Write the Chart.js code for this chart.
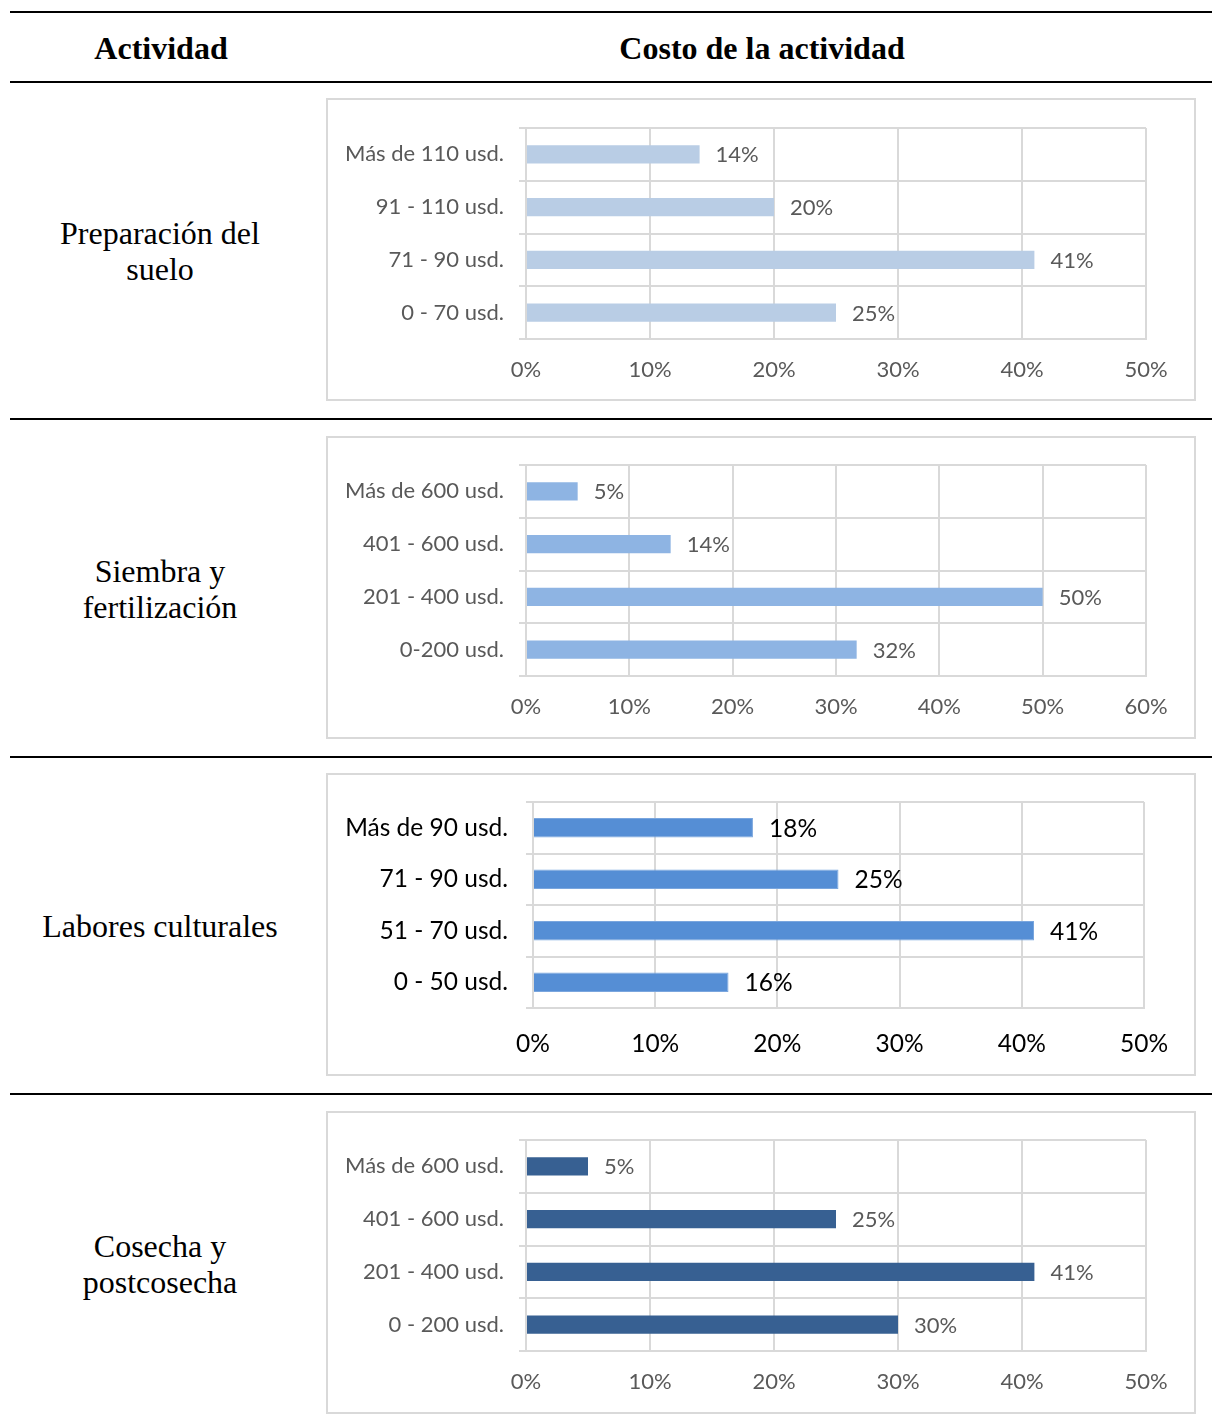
<!DOCTYPE html>
<html lang="es">
<head>
<meta charset="utf-8">
<title>Costo de la actividad</title>
<script src="https://cdn.jsdelivr.net/npm/chart.js@4.4.1/dist/chart.umd.min.js"></script>
<style>
  html, body { margin: 0; padding: 0; background: #fff; }
  body { width: 1212px; height: 1425px; position: relative; overflow: hidden; }
  .rule { position: absolute; left: 10px; width: 1202px; height: 2px; background: #000; }
  .head { position: absolute; top: 28px; font: bold 32px "Liberation Serif", "Times New Roman", serif; color: #000; text-align: center; line-height: 40px; }
  .act { position: absolute; left: 10px; width: 300px; font: 32px "Liberation Serif", "Times New Roman", serif; color: #000; text-align: center; line-height: 36px; transform: translateY(-50%); }
  .box { position: absolute; left: 326px; width: 866px; height: 299px; border: 2px solid #d9d9d9; }
  .plot { position: absolute; left: 327px; width: 868px; height: 301px; }
</style>
</head>
<body>
<div class="rule" style="top:11px"></div>
<div class="rule" style="top:81px"></div>
<div class="rule" style="top:418px"></div>
<div class="rule" style="top:756px"></div>
<div class="rule" style="top:1093px"></div>

<div class="head" style="left:10px;width:302px">Actividad</div>
<div class="head" style="left:326px;width:872px">Costo de la actividad</div>

<div class="act" style="top:251px">Preparación del<br>suelo</div>
<div class="act" style="top:589px">Siembra y<br>fertilización</div>
<div class="act" style="top:926px">Labores culturales</div>
<div class="act" style="top:1264px">Cosecha y<br>postcosecha</div>

<div class="box" style="top:98px"></div>
<div class="box" style="top:436px"></div>
<div class="box" style="top:773px"></div>
<div class="box" style="top:1111px"></div>

<div class="plot" style="top:99px"><canvas id="c-suelo"></canvas></div>
<div class="plot" style="top:437px"><canvas id="c-siembra"></canvas></div>
<div class="plot" style="top:774px"><canvas id="c-labores"></canvas></div>
<div class="plot" style="top:1112px"><canvas id="c-cosecha"></canvas></div>

<script>
// Rangos de costo (de arriba hacia abajo) y porcentaje de productores
const sueloLabels   = ['Más de 110 usd.', '91 - 110 usd.', '71 - 90 usd.', '0 - 70 usd.'];
const sueloValues   = [14, 20, 41, 25];

const siembraLabels = ['Más de 600 usd.', '401 - 600 usd.', '201 - 400 usd.', '0-200 usd.'];
const siembraValues = [5, 14, 50, 32];

const laboresLabels = ['Más de 90 usd.', '71 - 90 usd.', '51 - 70 usd.', '0 - 50 usd.'];
const laboresValues = [18, 25, 41, 16];

const cosechaLabels = ['Más de 600 usd.', '401 - 600 usd.', '201 - 400 usd.', '0 - 200 usd.'];
const cosechaValues = [5, 25, 41, 30];

const axisMax50 = 50;
const axisMax60 = 60;
const axisStep  = 10;

const GRID = '#d9d9d9';
const FONT = 'Lato, "Open Sans", sans-serif';

// etiqueta de valor a la derecha de cada barra
const valueLabels = {
    id: 'valueLabels',
    afterDatasetsDraw(chart, args, opts) {
        const { ctx } = chart;
        const meta = chart.getDatasetMeta(0);
        const data = chart.data.datasets[0].data;
        ctx.save();
        ctx.font = `${opts.size}px ${FONT}`;
        ctx.fillStyle = opts.color;
        ctx.textAlign = 'left';
        ctx.textBaseline = 'middle';
        meta.data.forEach((bar, i) => {
            ctx.fillText(data[i] + '%', bar.x + opts.offset, bar.y + 1);
        });
        ctx.restore();
    }
};

function makeChart(id, labels, values, cfg) {
    const canvas = document.getElementById(id);
    return new Chart(canvas, {
        type: 'bar',
        data: {
            labels,
            datasets: [{
                data: values,
                backgroundColor: cfg.color,
                borderColor: cfg.border || cfg.color,
                borderWidth: cfg.border ? 1 : 0,
                categoryPercentage: 1,
                barPercentage: cfg.bar || 0.35
            }]
        },
        plugins: [valueLabels],
        options: {
            indexAxis: 'y',
            responsive: true,
            maintainAspectRatio: false,
            animation: false,
            layout: { padding: { top: cfg.top, right: cfg.right, left: 0, bottom: 0 } },
            plugins: {
                legend: { display: false },
                tooltip: { enabled: false },
                valueLabels: { size: cfg.size, color: cfg.text, offset: 16 }
            },
            scales: {
                x: {
                    min: 0, max: cfg.max,
                    ticks: {
                        stepSize: axisStep,
                        callback: v => v + '%',
                        color: cfg.text,
                        font: { family: FONT, size: cfg.size },
                        padding: cfg.xPad,
                        maxRotation: 0
                    },
                    grid: { color: GRID, lineWidth: 2, drawTicks: false },
                    border: { color: GRID, width: 2 },
                    afterFit: s => { s.height = cfg.bottom; }
                },
                y: {
                    ticks: {
                        color: cfg.text,
                        font: { family: FONT, size: cfg.size },
                        padding: cfg.yPad
                    },
                    grid: { color: GRID, lineWidth: 2, offset: true, tickLength: 7 },
                    border: { color: GRID, width: 2 },
                    afterFit: s => {
                        s.width = cfg.left;
                        // las etiquetas van centradas en cada categoría, no necesitan margen extra
                        s.paddingTop = 0;
                        s.paddingBottom = 0;
                    }
                }
            }
        }
    });
}

makeChart('c-suelo', sueloLabels, sueloValues, {
    color: '#B9CDE5', text: '#595959', size: 22, max: axisMax50,
    top: 29, right: 49, left: 199, bottom: 61, xPad: 18, yPad: 15
});
makeChart('c-siembra', siembraLabels, siembraValues, {
    color: '#8EB4E3', text: '#595959', size: 22, max: axisMax60,
    top: 28, right: 49, left: 199, bottom: 62, xPad: 18, yPad: 15
});
makeChart('c-labores', laboresLabels, laboresValues, {
    color: '#558ED5', border: '#7aa6de', text: '#000000', size: 24.5, max: axisMax50,
    top: 28, right: 51, left: 206, bottom: 67, xPad: 21, yPad: 18, bar: 0.38
});
makeChart('c-cosecha', cosechaLabels, cosechaValues, {
    color: '#376092', text: '#595959', size: 22, max: axisMax50,
    top: 28, right: 49, left: 199, bottom: 62, xPad: 18, yPad: 15
});
</script>
</body>
</html>
